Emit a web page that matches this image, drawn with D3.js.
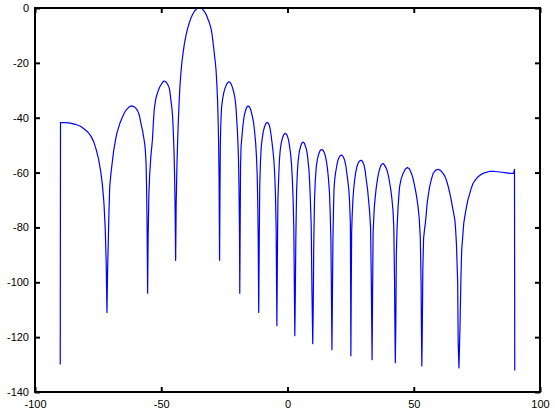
<!DOCTYPE html>
<html>
<head>
<meta charset="utf-8">
<script src="https://cdn.jsdelivr.net/npm/d3@7"></script>
<style>
  html, body { margin: 0; padding: 0; background: #fff; }
  svg { display: block; }
  .tick text { font-family: "Liberation Sans", Arial, sans-serif; font-size: 11px; fill: #000; }
</style>
</head>
<body>
<svg id="chart" width="555" height="415"></svg>
<script>
// Angle (degrees) and pattern level (dB), one line per lobe
const angles = [
  -90, -89.9, -88, -86, -84, -82, -80.5, -79, -77.8, -76.7, -75.7, -74.8, -74.0, -73.3, -72.7, -72.2, -71.8, -71.5, -71.3,
  -71.0, -70.7, -70.4, -70.0, -69.6, -68.8, -68.2, -67.6, -66.3, -65.4, -64.6, -63.9, -63.0, -62.4, -61.8, -61.2, -60.6, -60.0, -59.3, -58.7, -57.9, -57.4, -57.0, -56.6, -56.3, -56.0, -55.8, -55.6, -55.4, -55.2, -54.9,
  -54.6, -54.1, -53.5, -53.1, -52.8, -52.4, -52.1, -51.6, -51.1, -50.5, -49.9, -49.4, -48.9, -48.3, -47.7, -47.2, -46.8, -46.5, -46.2, -45.8, -45.5, -45.3, -45.1, -44.9, -44.7, -44.5, -44.3, -44.1, -43.8,
  -43.5, -43.2, -42.9, -42.6, -42.2, -41.8, -41.3, -40.8, -40.2, -39.6, -38.9, -38.2, -37.5, -36.8, -36.1, -35.4, -34.6, -33.9, -33.3, -32.9, -32.2, -31.6, -30.9, -30.3, -29.9, -29.6, -29.3, -29.0, -28.6, -28.3, -28.0, -27.7, -27.5, -27.3, -27.1, -26.9, -26.75,
  -26.6, -26.4, -26.1, -25.7, -25.3, -24.8, -24.3, -23.8, -23.3, -22.8, -22.4, -22.0, -21.7, -21.2, -20.8, -20.4, -20.1, -19.8, -19.6, -19.4, -19.2, -19.0, -18.9, -18.75,
  -18.6, -18.4, -18.0, -17.7, -17.4, -17.1, -16.6, -16.1, -15.6, -15.1, -14.6, -14.2, -13.8, -13.4, -13.0, -12.6, -12.3, -12.0, -11.8, -11.6, -11.4, -11.2,
  -11.0, -10.7, -10.4, -10.0, -9.6, -9.1, -8.6, -8.1, -7.6, -7.2, -6.9, -6.5, -6.1, -5.7, -5.4, -5.1, -4.8, -4.5, -4.2, -4.0,
  -3.8, -3.5, -3.2, -2.9, -2.5, -2.0, -1.5, -0.9, -0.4, 0.0, 0.4, 0.8, 1.2, 1.6, 1.9, 2.2, 2.5, 2.7, 2.9, 3.1, 3.3,
  3.6, 3.9, 4.2, 4.5, 4.8, 5.3, 5.7, 6.2, 6.7, 7.1, 7.4, 7.8, 8.1, 8.5, 8.8, 9.1, 9.4, 9.7, 10.0, 10.2, 10.4,
  10.7, 11.0, 11.4, 11.8, 12.3, 12.8, 13.2, 13.6, 14.1, 14.6, 15.0, 15.4, 15.8, 16.2, 16.6, 16.9, 17.2, 17.4, 17.6, 17.8, 18.0,
  18.2, 18.4, 18.7, 19.0, 19.5, 20.0, 20.6, 21.3, 22.0, 22.6, 23.1, 23.5, 23.9, 24.3, 24.6, 24.9, 25.0, 25.1, 25.25, 25.4,
  25.6, 25.9, 26.2, 26.6, 27.0, 27.5, 28.0, 28.5, 29.1, 29.7, 30.3, 30.8, 31.2, 31.7, 32.1, 32.5, 32.9, 33.2, 33.5, 33.7, 33.9,
  34.2, 34.4, 34.8, 35.2, 35.7, 36.2, 36.7, 37.2, 37.8, 38.4, 38.9, 39.4, 40.0, 40.5, 41.0, 41.4, 41.8, 42.1, 42.4, 42.5, 42.7, 42.9, 43.1,
  43.4, 43.8, 44.1, 44.4, 45.0, 45.8, 46.6, 47.5, 48.3, 49.1, 49.8, 50.4, 51.1, 51.7, 52.2, 52.6, 52.9, 53.0, 53.2, 53.4, 53.6,
  53.9, 54.3, 54.6, 55.0, 55.3, 55.8, 56.3, 57.0, 57.7, 58.6, 59.6, 60.6, 61.6, 62.3, 62.9, 63.6, 64.3, 64.8, 65.3, 65.8, 66.3, 66.6, 66.9, 67.4, 67.6, 67.9, 68.3, 68.7,
  69.0, 69.3, 69.8, 70.3, 70.9, 71.5, 72.2, 72.8, 73.5, 74.5, 75.5, 76.5, 77.5, 78.7, 79.9, 82.0, 84.1, 86.0, 88.1, 89.5, 89.9, 90.0
];
const levels = [
  -130, -41.8, -41.8, -42.0, -42.4, -43.1, -44.1, -45.3, -46.8, -48.9, -51.8, -55.2, -59.5, -64.5, -71, -80, -93, -111, -98,
  -86, -74, -65.1, -61, -57.8, -51.8, -48.5, -45.7, -41.8, -39.8, -38.2, -37.2, -36.3, -35.9, -35.7, -35.8, -36.1, -36.6, -37.6, -39.0, -42.7, -44.7, -46.9, -49.2, -51.8, -57, -66, -80, -104, -84, -68,
  -61, -54, -48.1, -41.5, -37.2, -34.5, -32.9, -31.2, -29.9, -28.6, -27.7, -27.0, -26.6, -26.8, -27.5, -28.3, -29.3, -31.0, -33.5, -36.3, -39.6, -43.5, -48.1, -54, -62, -74, -92, -72, -58,
  -48.1, -40.5, -34, -28.5, -23.5, -19.5, -16, -12.8, -10.0, -7.6, -5.4, -3.6, -2.2, -1.1, -0.4, -0.05, 0, -0.25, -0.8, -1.3, -2.4, -3.8, -5.5, -7.4, -9.4, -11.7, -14, -16.5, -19.6, -22.6, -27.5, -33.5, -40, -48.1, -62, -92, -68,
  -50, -42, -36.0, -33.2, -31.1, -29.4, -28.2, -27.3, -26.9, -27.1, -27.6, -28.4, -29.3, -31.0, -32.9, -36.3, -40.8, -45.5, -50, -55.4, -66, -82, -104, -80,
  -58, -50.6, -46.5, -43.3, -41.0, -39.0, -37.3, -36.1, -35.7, -36.0, -37.0, -38.4, -40.0, -42.0, -45.3, -49.3, -54, -61, -70, -84, -111, -86,
  -65, -56, -50.6, -47.5, -45.1, -43.3, -42.2, -41.7, -42.0, -42.8, -43.9, -46.3, -49.3, -52.5, -55.4, -60, -67, -80, -115.8, -90,
  -70, -62, -55.4, -52, -49.3, -47.4, -46.2, -45.7, -46.0, -46.8, -48.1, -50.3, -53.0, -57, -62, -69, -80, -100, -119.5, -104, -84,
  -67, -60, -56, -53.5, -51.8, -50.1, -49.2, -48.9, -49.3, -50.4, -51.2, -53.0, -55.4, -59, -64, -71, -80, -104, -122.4, -108, -86,
  -70, -63, -58, -55.3, -53.4, -52.2, -51.7, -51.6, -51.9, -52.8, -54.0, -55.8, -58.3, -62, -67, -74, -85, -104, -124.6, -104, -84,
  -74, -66.4, -62.5, -60.3, -57.6, -55.4, -54.1, -53.6, -54.1, -55.4, -57.5, -60.3, -63, -66.4, -71, -78.5, -100, -126.8, -102, -82,
  -76, -70.0, -66, -62.7, -60, -57.8, -56.5, -55.8, -55.5, -55.9, -57.3, -59.6, -62.7, -66, -70.0, -74, -80, -100, -128.2, -104, -82,
  -76, -72.4, -68.5, -65.1, -62, -59.7, -58.1, -57.1, -56.7, -57.2, -58.1, -59.1, -61.3, -63.9, -66.8, -70.0, -74, -80, -100, -112, -129.3, -115, -90,
  -80, -72.4, -68.5, -65.1, -62.3, -60.3, -58.8, -58.1, -58.7, -60.3, -62.5, -65.1, -68.5, -72.4, -77, -84, -100, -113, -130.5, -116, -95,
  -84, -80.5, -78.5, -74.5, -71.2, -68, -65.1, -62.4, -60.3, -59.2, -58.8, -59.2, -60.3, -61.3, -62.7, -64.9, -67.6, -69.8, -72.4, -74.8, -77.3, -81, -86, -100, -122, -131.2, -116.7, -98,
  -88, -84.6, -78.5, -75.5, -72.4, -69.8, -67.6, -65.6, -63.9, -62.6, -61.5, -60.8, -60.3, -59.9, -59.6, -59.6, -59.8, -60.0, -60.3, -60.3, -58.8, -132.2
];
const xTicks = [-100, -50, 0, 50, 100];
const yTicks = [0, -20, -40, -60, -80, -100, -120, -140];

const svg = d3.select("#chart");
const L = 35, R = 540, T = 8, B = 392;
const x = d3.scaleLinear().domain([-100, 100]).range([L, R]);
const y = d3.scaleLinear().domain([-140, 0]).range([B, T]);

const n = Math.min(angles.length, levels.length);
const data = angles.slice(0, n).map((a, i) => [a, levels[i]]);

// curve
svg.append("path")
  .datum(data)
  .attr("fill", "none")
  .attr("stroke", "#0000ff")
  .attr("stroke-width", 1.2)
  .attr("stroke-linejoin", "round")
  .attr("d", d3.line().x(d => x(d[0])).y(d => y(d[1])));

// axes (ticks inward, all four sides)
function styleAxis(g) {
  g.select(".domain").remove();
  g.selectAll(".tick line").attr("stroke", "#000").attr("stroke-width", 2);
}
svg.append("g").attr("transform", `translate(0,${B})`)
  .call(d3.axisBottom(x).tickValues(xTicks).tickSize(-5).tickPadding(8).tickFormat(d3.format("d")))
  .call(styleAxis);
svg.append("g").attr("transform", `translate(0,${T})`)
  .call(d3.axisTop(x).tickValues(xTicks).tickSize(-5).tickFormat(""))
  .call(styleAxis);
svg.append("g").attr("transform", `translate(${L},0)`)
  .call(d3.axisLeft(y).tickValues(yTicks).tickSize(-5).tickPadding(6).tickFormat(d3.format("d")))
  .call(styleAxis);
svg.append("g").attr("transform", `translate(${R},0)`)
  .call(d3.axisRight(y).tickValues(yTicks).tickSize(-5).tickFormat(""))
  .call(styleAxis);

svg.selectAll(".tick text").attr("font-family", null).attr("font-size", null);
svg.selectAll(".tick text").text(function() { return this.textContent.replace("\u2212", "-"); });

// box
svg.append("rect")
  .attr("x", L).attr("y", T).attr("width", R - L).attr("height", B - T)
  .attr("fill", "none").attr("stroke", "#000").attr("stroke-width", 2);
</script>
</body>
</html>
